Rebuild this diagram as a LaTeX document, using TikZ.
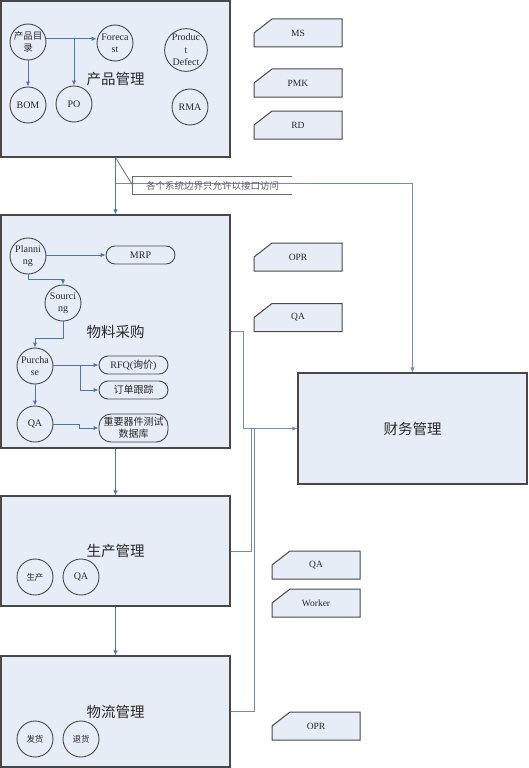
\documentclass[tikz,border=0pt]{standalone}
\usepackage{fontspec}
\setmainfont{Liberation Serif}
\newfontfamily\cjk{Noto Sans CJK SC}
\usetikzlibrary{arrows.meta,calc}
\definecolor{boxfill}{RGB}{231,237,246}
\definecolor{boxline}{RGB}{72,72,72}
\definecolor{conn}{RGB}{79,117,180}
\definecolor{connlt}{RGB}{110,140,196}
\definecolor{txt}{RGB}{40,40,40}
\definecolor{notetxt}{RGB}{95,95,95}
\newcommand\mytag[4]{%
 \draw[tagshape, shift={(#2,#3)}] (-44,14) -- (-44,0) -- (-26,-14) -- (44,-14) -- (44,14) -- cycle;
 \node[tagtxt] (#1) at (#2,#3) {#4};}
\begin{document}
\begin{tikzpicture}[x=1pt,y=-1pt,
 bigbox/.style={draw=boxline, fill=boxfill, line width=1.3pt, minimum width=229pt, inner sep=0, font=\cjk\fontsize{14.5}{16}\selectfont, text=txt},
 circ/.style={circle, draw=boxline, line width=0.9pt, fill=boxfill, minimum size=36pt, inner sep=0, align=center, font=\fontsize{10}{12}\selectfont, text=txt},
 ccirc/.style={circ, font=\cjk\fontsize{8.5}{11}\selectfont},
 pill/.style={draw=boxline, line width=0.9pt, fill=boxfill, rounded corners=9pt, minimum width=69pt, minimum height=18pt, inner sep=0, align=center, font=\fontsize{10}{12}\selectfont, text=txt},
 arr/.style={draw=conn, line width=1pt, -{Latex[length=5pt,width=4.5pt]}},
 ln/.style={draw=connlt, line width=0.9pt},
 tagshape/.style={draw=boxline, line width=1pt, fill=boxfill},
 tagtxt/.style={inner sep=0, minimum width=88pt, minimum height=28pt, font=\fontsize{9.5}{11}\selectfont, text=txt},
 notebox/.style={inner sep=0, minimum width=159pt, minimum height=17pt, font=\cjk\fontsize{9.5}{11}\selectfont, text=notetxt},
 noteline/.style={draw=boxline!80, line width=0.8pt}
]
\useasboundingbox (0,0) rectangle (528,768);

% big boxes
\node[bigbox, minimum height=156pt] (b1) at (115.5,79) {产品管理};
\node[bigbox, minimum height=233pt] (b2) at (115.5,331.5) {物料采购};
\node[bigbox, minimum height=110pt] (b3) at (115.5,551) {生产管理};
\node[bigbox, minimum height=111pt] (b4) at (115.5,711.5) {物流管理};
\node[bigbox, minimum height=111pt] (fin) at (412.5,428.5) {财务管理};

% box 1 content
\node[ccirc, font=\cjk\fontsize{9.5}{12}\selectfont] (cat) at (28,42) {产品目\\录};
\node[circ] (fc) at (115,43) {Foreca\\st};
\node[circ, font=\fontsize{10}{12.5}\selectfont] (pd) at (186,50) {Produc\\t\\Defect};
\node[circ] (bom) at (28,105) {BOM};
\node[circ] (po) at (74,104) {PO};
\node[circ] (rma) at (190,107) {RMA};
\draw[arr] (cat.10) -- (cat.10 -| fc.west);
\draw[arr] (cat.10 -| po.north) -- (po.north);
\draw[arr] (cat.south) -- (bom.north);

% box 2 content
\node[circ] (plan) at (28,256) {Planni\\ng};
\node[pill] (mrp) at (140.5,255) {MRP};
\node[circ] (src) at (63,303) {Sourci\\ng};
\node[circ] (pur) at (35,366) {Purcha\\se};
\node[pill] (rfq) at (133.5,365) {RFQ({\cjk 询价})};
\node[pill, font=\cjk\fontsize{10}{12}\selectfont] (ord) at (133.5,390) {订单跟踪};
\node[circ] (qa) at (35,424) {QA};
\node[pill, minimum height=28pt, rounded corners=12pt, font=\cjk\fontsize{10}{12}\selectfont] (db) at (133.5,428) {重要器件测试\\数据库};
\draw[arr] (plan.east |- mrp.west) -- (mrp.west);
\draw[arr] (plan.south) -- ++(0,5) -| (src.north);
\draw[arr] (src.south) -- ++(0,17) -| (pur.north);
\coordinate (pb) at (80,365);
\draw[arr] (pur.east |- rfq.west) -- (rfq.west);
\draw[arr] (pb) |- (ord.west);
\draw[arr] (pur.south) -- (qa.north);
\draw[arr] (qa.east) -- ++(26,0) |- (db.west);

% box 3 / 4 content
\node[ccirc] (s1) at (35,577) {生产};
\node[circ] (s2) at (81,577) {QA};
\node[ccirc] (l1) at (35,739) {发货};
\node[ccirc] (l2) at (81,739) {退货};

% connectors between boxes
\draw[arr, line width=0.9pt] (b1.south) -- (b2.north);
\draw[arr, line width=0.9pt] (b2.south) -- (b3.north);
\draw[arr, line width=0.9pt] (b3.south) -- (b4.north);
\coordinate (j1) at (115.5,183);
\draw[arr, draw=connlt, line width=0.9pt] (j1) -| (fin.north);
\draw[arr, draw=connlt, line width=0.9pt] (b2.east) -- ++(13,0) |- (fin.west);
\coordinate (j3) at (251,428.5);
\coordinate (j4) at (254,428.5);
\draw[ln] (b3.east) -| (j3);
\draw[ln] (b4.east) -| (j4);

% callout
\node[notebox] (note) at (212.5,185.5) {各个系统边界只允许以接口访问};
\draw[noteline] (note.north east) -- (note.north west) -- (note.south west) -- (note.south east);
\draw[noteline] (b1.south) -- (note.west);

% tags
\mytag{tms}{298}{33}{MS}
\mytag{tpmk}{298}{83}{PMK}
\mytag{trd}{298}{125}{RD}
\mytag{topr}{298}{257}{OPR}
\mytag{tqa}{298}{317.5}{QA}
\mytag{tqa2}{316}{565}{QA}
\mytag{twk}{316}{603}{Worker}
\mytag{topr2}{316}{726}{OPR}
\end{tikzpicture}
\end{document}
